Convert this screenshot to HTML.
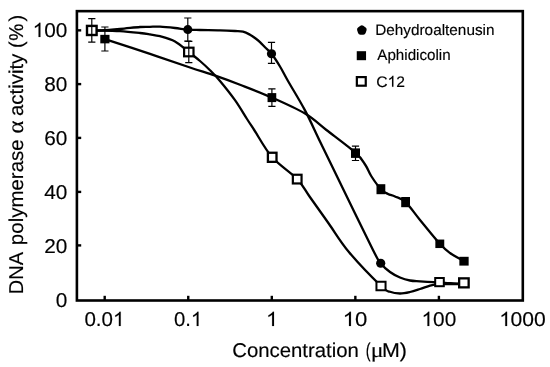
<!DOCTYPE html>
<html><head><meta charset="utf-8"><style>
html,body{margin:0;padding:0;background:#fff;}
svg{display:block;will-change:transform;}
text{font-family:"Liberation Sans",sans-serif;fill:#000;text-rendering:geometricPrecision;stroke:#000;stroke-width:0.15px;}
</style></head><body>
<svg width="550" height="367" viewBox="0 0 550 367">
<rect width="550" height="367" fill="#fff"/>
<path d="M104.90,39.10 C112.42,41.57 135.82,49.17 150.00,53.90 C164.18,58.63 179.12,63.87 190.00,67.50 C200.88,71.13 206.97,72.82 215.30,75.70 C223.63,78.58 230.57,81.15 240.00,84.80 C249.43,88.45 261.07,92.80 271.90,97.60 C282.73,102.40 295.92,108.20 305.00,113.60 C314.08,119.00 317.95,123.45 326.40,130.00 C334.85,136.55 349.20,147.07 355.70,152.90 C362.20,158.73 362.82,161.15 365.40,165.00 C367.98,168.85 368.62,171.97 371.20,176.00 C373.78,180.03 378.10,186.20 380.90,189.20 C383.70,192.20 385.65,192.78 388.00,194.00 C390.35,195.22 392.07,195.15 395.00,196.50 C397.93,197.85 401.43,198.18 405.60,202.10 C409.77,206.02 414.30,213.05 420.00,220.00 C425.70,226.95 434.80,238.30 439.80,243.80 C444.80,249.30 445.97,250.10 450.00,253.00 C454.03,255.90 461.67,259.83 464.00,261.20" fill="none" stroke="#000" stroke-width="2.3" stroke-linejoin="round"/>
<path d="M92.00,30.60 C93.33,30.58 95.33,30.77 100.00,30.50 C104.67,30.23 113.33,29.58 120.00,29.00 C126.67,28.42 135.00,27.37 140.00,27.00 C145.00,26.63 146.67,26.85 150.00,26.80 C153.33,26.75 155.83,26.50 160.00,26.70 C164.17,26.90 170.37,27.52 175.00,28.00 C179.63,28.48 183.63,29.27 187.80,29.60 C191.97,29.93 194.63,29.88 200.00,30.00 C205.37,30.12 214.17,30.13 220.00,30.30 C225.83,30.47 231.17,30.77 235.00,31.00 C238.83,31.23 240.50,31.08 243.00,31.70 C245.50,32.32 248.00,33.65 250.00,34.70 C252.00,35.75 253.33,36.77 255.00,38.00 C256.67,39.23 258.33,40.55 260.00,42.10 C261.67,43.65 263.08,45.35 265.00,47.30 C266.92,49.25 269.00,50.60 271.50,53.80 C274.00,57.00 277.25,61.97 280.00,66.50 C282.75,71.03 283.83,73.68 288.00,81.00 C292.17,88.32 299.67,100.32 305.00,110.40 C310.33,120.48 314.62,130.40 320.00,141.50 C325.38,152.60 328.47,158.92 337.30,177.00 C346.13,195.08 365.77,235.63 373.00,250.00 C380.23,264.37 377.87,259.53 380.70,263.20 C383.53,266.87 386.78,269.62 390.00,272.00 C393.22,274.38 396.67,276.08 400.00,277.50 C403.33,278.92 406.67,279.87 410.00,280.50 C413.33,281.13 416.00,281.02 420.00,281.30 C424.00,281.58 429.83,281.95 434.00,282.20 C438.17,282.45 441.00,282.57 445.00,282.80 C449.00,283.03 454.85,283.45 458.00,283.60 C461.15,283.75 462.92,283.68 463.90,283.70" fill="none" stroke="#000" stroke-width="2.3" stroke-linejoin="round"/>
<path d="M92.00,30.60 C93.33,30.58 95.33,30.42 100.00,30.50 C104.67,30.58 113.33,30.68 120.00,31.10 C126.67,31.52 135.00,32.45 140.00,33.00 C145.00,33.55 146.67,33.87 150.00,34.40 C153.33,34.93 155.83,35.02 160.00,36.20 C164.17,37.38 170.20,38.87 175.00,41.50 C179.80,44.13 184.63,48.75 188.80,52.00 C192.97,55.25 196.47,57.97 200.00,61.00 C203.53,64.03 206.67,66.87 210.00,70.20 C213.33,73.53 215.83,76.00 220.00,81.00 C224.17,86.00 230.50,93.87 235.00,100.20 C239.50,106.53 243.80,114.03 247.00,119.00 C250.20,123.97 250.00,123.62 254.20,130.00 C258.40,136.38 265.03,149.12 272.20,157.30 C279.37,165.48 290.92,172.48 297.20,179.10 C303.48,185.72 304.65,189.60 309.90,197.00 C315.15,204.40 322.20,214.33 328.70,223.50 C335.20,232.67 340.18,241.58 348.90,252.00 C357.62,262.42 374.15,279.37 381.00,286.00 C387.85,292.63 386.83,290.55 390.00,291.80 C393.17,293.05 396.67,293.47 400.00,293.50 C403.33,293.53 406.67,292.75 410.00,292.00 C413.33,291.25 416.67,290.07 420.00,289.00 C423.33,287.93 427.33,286.38 430.00,285.60 C432.67,284.82 433.50,284.57 436.00,284.30 C438.50,284.03 440.35,284.05 445.00,284.00 C449.65,283.95 460.75,284.00 463.90,284.00" fill="none" stroke="#000" stroke-width="2.3" stroke-linejoin="round"/>
<path d="M104.9,27.0V51.0M101.3,27.0h7.2M101.3,51.0h7.2" stroke="#000" stroke-width="1.2" fill="none"/>
<rect x="100.30" y="34.85" width="9.20" height="8.50" fill="#000"/>
<path d="M271.9,88.9V106.3M268.3,88.9h7.2M268.3,106.3h7.2" stroke="#000" stroke-width="1.2" fill="none"/>
<rect x="267.55" y="93.10" width="8.70" height="9.00" fill="#000"/>
<path d="M355.5,146.2V160.5M351.9,146.2h7.2M351.9,160.5h7.2" stroke="#000" stroke-width="1.2" fill="none"/>
<rect x="351.00" y="148.40" width="9.00" height="9.50" fill="#000"/>
<rect x="376.50" y="184.20" width="8.80" height="10.00" fill="#000"/>
<rect x="401.20" y="197.00" width="8.80" height="10.20" fill="#000"/>
<rect x="435.35" y="239.55" width="8.90" height="8.50" fill="#000"/>
<rect x="459.35" y="256.80" width="9.30" height="8.80" fill="#000"/>
<path d="M187.8,18.0V41.1M184.2,18.0h7.2M184.2,41.1h7.2" stroke="#000" stroke-width="1.2" fill="none"/>
<ellipse cx="187.80" cy="29.60" rx="4.6" ry="4.5" fill="#000"/>
<path d="M271.5,42.3V63.4M267.9,42.3h7.2M267.9,63.4h7.2" stroke="#000" stroke-width="1.2" fill="none"/>
<ellipse cx="271.50" cy="53.80" rx="4.6" ry="4.5" fill="#000"/>
<ellipse cx="380.70" cy="263.20" rx="4.6" ry="4.5" fill="#000"/>
<rect x="87.00" y="25.90" width="9.60" height="9.10" fill="#fff" stroke="#000" stroke-width="2.4"/>
<path d="M91.8,18.6V42.2M88.2,18.6h7.2M88.2,42.2h7.2" stroke="#000" stroke-width="1.2" fill="none"/>
<rect x="184.10" y="47.70" width="9.40" height="8.60" fill="#fff" stroke="#000" stroke-width="2.2"/>
<path d="M188.8,41.3V62.7M185.2,41.3h7.2M185.2,62.7h7.2" stroke="#000" stroke-width="1.2" fill="none"/>
<rect x="267.90" y="152.75" width="8.60" height="9.10" fill="#fff" stroke="#000" stroke-width="2.3"/>
<rect x="292.85" y="174.75" width="8.70" height="8.70" fill="#fff" stroke="#000" stroke-width="2.2"/>
<rect x="376.45" y="281.75" width="9.10" height="8.50" fill="#fff" stroke="#000" stroke-width="2.0"/>
<rect x="435.20" y="278.00" width="8.60" height="8.20" fill="#fff" stroke="#000" stroke-width="2.0"/>
<rect x="459.15" y="278.35" width="9.50" height="9.00" fill="#fff" stroke="#000" stroke-width="2.3"/>
<rect x="76.9" y="11.15" width="445.9" height="289.35" fill="none" stroke="#000" stroke-width="2.6"/>
<path d="M76.9,30.35h4.3" stroke="#000" stroke-width="2.4"/><path d="M76.9,84.10h4.3" stroke="#000" stroke-width="2.4"/><path d="M76.9,137.90h4.3" stroke="#000" stroke-width="2.4"/><path d="M76.9,191.90h4.3" stroke="#000" stroke-width="2.4"/><path d="M76.9,245.40h4.3" stroke="#000" stroke-width="2.4"/><path d="M104.70,300.5v-4.7" stroke="#000" stroke-width="2.4"/><path d="M188.25,300.5v-4.7" stroke="#000" stroke-width="2.4"/><path d="M271.80,300.5v-4.7" stroke="#000" stroke-width="2.4"/><path d="M355.35,300.5v-4.7" stroke="#000" stroke-width="2.4"/><path d="M438.90,300.5v-4.7" stroke="#000" stroke-width="2.4"/>
<g transform="translate(84.38,326.00) scale(1.0353,1)"><text x="0.000" y="0" font-size="19.9">0</text><text x="11.068" y="0" font-size="19.9">.</text><text x="16.596" y="0" font-size="19.9">0</text><path transform="translate(27.664,0) scale(0.009717,-0.009717)" d="M763 0H583V1147Q518 1085 412.5 1023T223 930V1104Q374 1175 487 1276T647 1472H763Z" stroke="#000" stroke-width="15"/></g><g transform="translate(173.99,326.00) scale(1.0205,1)"><text x="0.000" y="0" font-size="19.9">0</text><text x="11.068" y="0" font-size="19.9">.</text><path transform="translate(16.596,0) scale(0.009717,-0.009717)" d="M763 0H583V1147Q518 1085 412.5 1023T223 930V1104Q374 1175 487 1276T647 1472H763Z" stroke="#000" stroke-width="15"/></g><g transform="translate(266.09,326.00) scale(1.0659,1)"><path transform="translate(0.000,0) scale(0.009717,-0.009717)" d="M763 0H583V1147Q518 1085 412.5 1023T223 930V1104Q374 1175 487 1276T647 1472H763Z" stroke="#000" stroke-width="15"/></g><g transform="translate(342.69,326.00) scale(1.1119,1)"><path transform="translate(0.000,0) scale(0.009717,-0.009717)" d="M763 0H583V1147Q518 1085 412.5 1023T223 930V1104Q374 1175 487 1276T647 1472H763Z" stroke="#000" stroke-width="15"/><text x="11.068" y="0" font-size="19.9">0</text></g><g transform="translate(421.53,326.00) scale(1.0457,1)"><path transform="translate(0.000,0) scale(0.009717,-0.009717)" d="M763 0H583V1147Q518 1085 412.5 1023T223 930V1104Q374 1175 487 1276T647 1472H763Z" stroke="#000" stroke-width="15"/><text x="11.068" y="0" font-size="19.9">0</text><text x="22.136" y="0" font-size="19.9">0</text></g><g transform="translate(499.33,326.00) scale(1.0469,1)"><path transform="translate(0.000,0) scale(0.009717,-0.009717)" d="M763 0H583V1147Q518 1085 412.5 1023T223 930V1104Q374 1175 487 1276T647 1472H763Z" stroke="#000" stroke-width="15"/></g><g transform="translate(510.56,326.00) scale(1.0604,1)"><text x="0.000" y="0" font-size="19.9">0</text><text x="11.068" y="0" font-size="19.9">0</text><text x="22.136" y="0" font-size="19.9">0</text></g><g transform="translate(55.79,307.20) scale(1.0450,1)"><text x="0.000" y="0" font-size="19.9">0</text></g><g transform="translate(44.22,253.16) scale(1.0450,1)"><text x="0.000" y="0" font-size="19.9">2</text><text x="11.068" y="0" font-size="19.9">0</text></g><g transform="translate(44.22,199.12) scale(1.0450,1)"><text x="0.000" y="0" font-size="19.9">4</text><text x="11.068" y="0" font-size="19.9">0</text></g><g transform="translate(44.22,145.08) scale(1.0450,1)"><text x="0.000" y="0" font-size="19.9">6</text><text x="11.068" y="0" font-size="19.9">0</text></g><g transform="translate(44.22,91.04) scale(1.0450,1)"><text x="0.000" y="0" font-size="19.9">8</text><text x="11.068" y="0" font-size="19.9">0</text></g><g transform="translate(32.65,37.00) scale(1.0450,1)"><path transform="translate(0.000,0) scale(0.009717,-0.009717)" d="M763 0H583V1147Q518 1085 412.5 1023T223 930V1104Q374 1175 487 1276T647 1472H763Z" stroke="#000" stroke-width="15"/><text x="11.068" y="0" font-size="19.9">0</text><text x="22.136" y="0" font-size="19.9">0</text></g><text transform="translate(232.18,356.50) scale(1.0231,1)" font-size="19.9">Concentration</text><text transform="translate(365.64,356.50) scale(0.7206,1)" font-size="19.9">(</text><text transform="translate(370.79,356.50) scale(1.1096,1)" font-size="21.5" style="font-family:'Liberation Serif',serif">μ</text><text transform="translate(381.98,356.50) scale(1.0786,1)" font-size="19.9">M)</text><text transform="translate(23.20,294.20) rotate(-90) scale(1.0000,1)" font-size="20">DNA</text><text transform="translate(23.20,245.13) rotate(-90) scale(1.0237,1)" font-size="20">polymerase</text><text transform="translate(23.20,133.71) rotate(-90) scale(1.1208,1)" font-size="22.5" style="font-family:'Liberation Serif',serif">α</text><text transform="translate(23.20,116.12) rotate(-90) scale(1.0216,1)" font-size="20">activity</text><text transform="translate(23.20,47.98) rotate(-90) scale(0.9811,1)" font-size="20">(</text><text transform="translate(23.20,40.67) rotate(-90) scale(0.9573,1)" font-size="20">%</text><text transform="translate(23.20,21.60) rotate(-90) scale(1.0000,1)" font-size="20">)</text>
<polygon points="361.85,27.70 364.23,29.43 363.32,32.22 360.38,32.22 359.47,29.43" fill="#000" stroke="#000" stroke-width="4.9" stroke-linejoin="round"/><rect x="356.75" y="51.20" width="9.30" height="9.00" fill="#000"/><rect x="356.85" y="77.10" width="8.90" height="8.60" fill="#fff" stroke="#000" stroke-width="2.2"/><text transform="translate(375.17,34.50) scale(1.0099,1)" font-size="15.2">Dehydroaltenusin</text><text transform="translate(377.30,60.20) scale(0.9986,1)" font-size="15.2">Aphidicolin</text><g transform="translate(376.22,86.80) scale(1.0324,1)"><text x="0.000" y="0" font-size="15.2">C</text><path transform="translate(10.977,0) scale(0.007422,-0.007422)" d="M763 0H583V1147Q518 1085 412.5 1023T223 930V1104Q374 1175 487 1276T647 1472H763Z" stroke="#000" stroke-width="15"/><text x="19.431" y="0" font-size="15.2">2</text></g>
</svg>
</body></html>
